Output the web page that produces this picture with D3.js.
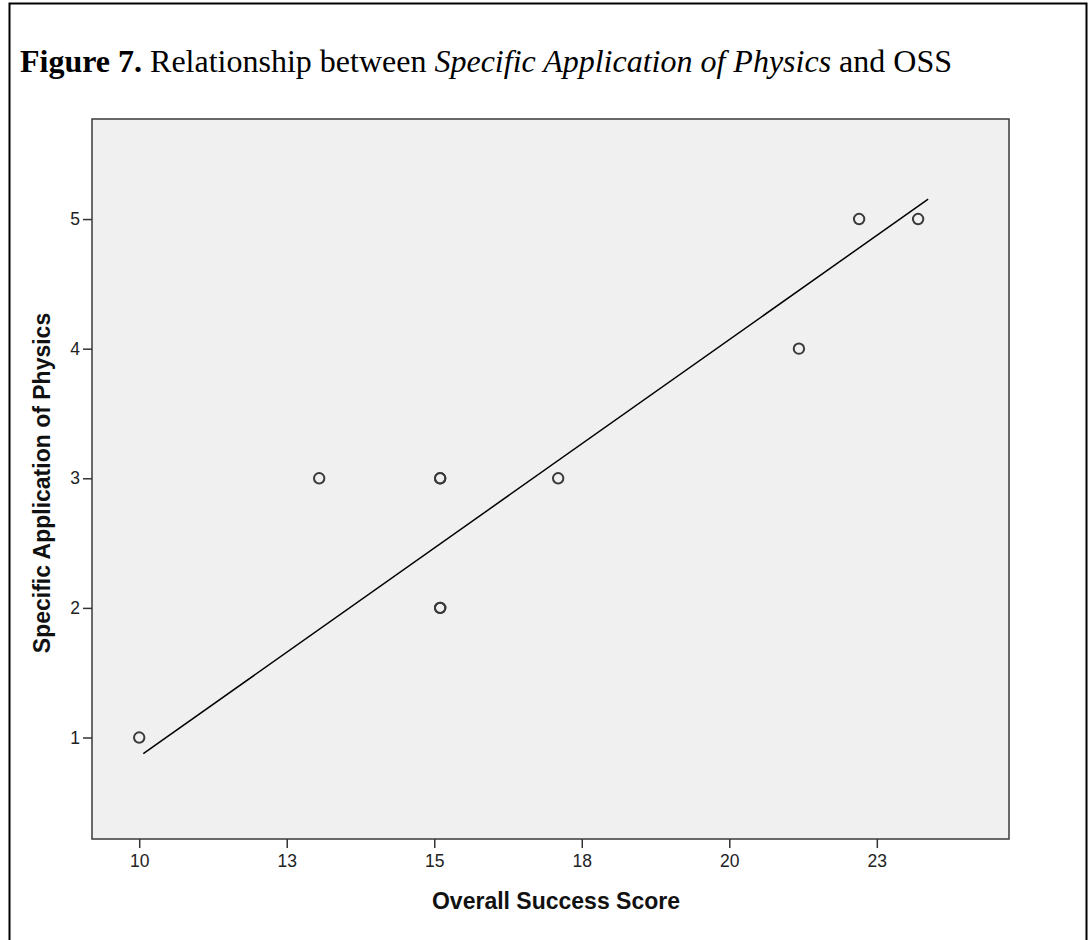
<!DOCTYPE html>
<html>
<head>
<meta charset="utf-8">
<script src="https://cdn.jsdelivr.net/npm/d3@7"></script>
<style>
  html, body { margin: 0; padding: 0; background: #ffffff; }
  svg { display: block; }
</style>
</head>
<body>
<div id="chart"></div>
<script>
// ---- data ----
const oss = [10, 13.05, 15.1, 15.1, 15.1, 15.1, 17.1, 21.18, 22.2, 23.2];
const sap = [1, 3, 3, 3, 2, 2, 3, 4, 5, 5];
const xTickValues = [10, 12.5, 15, 17.5, 20, 22.5];
const xTickLabels = ["10", "13", "15", "18", "20", "23"];
const yTickValues = [1, 2, 3, 4, 5];
const fitX = [10.07, 23.37];
const fitY = [0.876, 5.154];
const xDomain = [9.2, 24.74];
const yDomain = [0.217, 5.772];

const W = 1090, H = 940;
const plot = { left: 92, top: 119, right: 1009, bottom: 839 };

const svg = d3.select("#chart").append("svg").attr("width", W).attr("height", H);

// outer figure frame
svg.append("rect")
  .attr("x", 9.5).attr("y", 3.5).attr("width", 1077).attr("height", 960)
  .attr("fill", "none").attr("stroke", "#000").attr("stroke-width", 2);

// title
const title = svg.append("text")
  .attr("x", 20).attr("y", 72)
  .attr("font-family", "'Liberation Serif', 'Times New Roman', serif")
  .attr("font-size", 32).attr("fill", "#000");
title.append("tspan").attr("font-weight", "bold").text("Figure 7.");
title.append("tspan").text(" Relationship between ");
title.append("tspan").attr("font-style", "italic").text("Specific Application of Physics");
title.append("tspan").text(" and OSS");

const x = d3.scaleLinear().domain(xDomain).range([plot.left, plot.right]);
const y = d3.scaleLinear().domain(yDomain).range([plot.bottom, plot.top]);

// plot background
svg.append("rect")
  .attr("x", plot.left).attr("y", plot.top)
  .attr("width", plot.right - plot.left).attr("height", plot.bottom - plot.top)
  .attr("fill", "#f0f0f0").attr("stroke", "#3a3a3a").attr("stroke-width", 1.5);

// axes
const xAxis = d3.axisBottom(x).tickValues(xTickValues)
  .tickFormat((d, i) => xTickLabels[i]).tickSize(9).tickPadding(7);
const gx = svg.append("g").attr("transform", `translate(0,${plot.bottom})`).call(xAxis);
gx.select(".domain").remove();
gx.selectAll(".tick line").attr("stroke", "#333").attr("stroke-width", 1.5);
gx.selectAll(".tick text").attr("font-family", "'Liberation Sans', Arial, sans-serif")
  .attr("font-size", 17.5).attr("fill", "#222");

const yAxis = d3.axisLeft(y).tickValues(yTickValues).tickFormat(d3.format("d")).tickSize(9).tickPadding(3);
const gy = svg.append("g").attr("transform", `translate(${plot.left},0)`).call(yAxis);
gy.select(".domain").remove();
gy.selectAll(".tick line").attr("stroke", "#333").attr("stroke-width", 1.5);
gy.selectAll(".tick text").attr("font-family", "'Liberation Sans', Arial, sans-serif")
  .attr("font-size", 17.5).attr("fill", "#222");

// axis titles
svg.append("text")
  .attr("x", 556).attr("y", 909).attr("text-anchor", "middle")
  .attr("font-family", "'Liberation Sans', Arial, sans-serif")
  .attr("font-weight", "bold").attr("font-size", 23).attr("fill", "#111")
  .text("Overall Success Score");

svg.append("text")
  .attr("transform", `translate(50,${(plot.top + plot.bottom) / 2 + 4}) rotate(-90)`)
  .attr("text-anchor", "middle")
  .attr("font-family", "'Liberation Sans', Arial, sans-serif")
  .attr("font-weight", "bold").attr("font-size", 23).attr("fill", "#111")
  .text("Specific Application of Physics");

// fit line
const line = d3.line().x(d => x(d[0])).y(d => y(d[1]));
svg.append("path")
  .datum(fitX.map((v, i) => [v, fitY[i]]))
  .attr("d", line).attr("fill", "none").attr("stroke", "#000").attr("stroke-width", 1.5);

// points
svg.append("g").selectAll("circle")
  .data(oss.map((v, i) => ({ x: v, y: sap[i] })))
  .join("circle")
  .attr("cx", d => x(d.x)).attr("cy", d => y(d.y)).attr("r", 5.2)
  .attr("fill", "none").attr("stroke", "#3a3a3a").attr("stroke-width", 2);
</script>
</body>
</html>
